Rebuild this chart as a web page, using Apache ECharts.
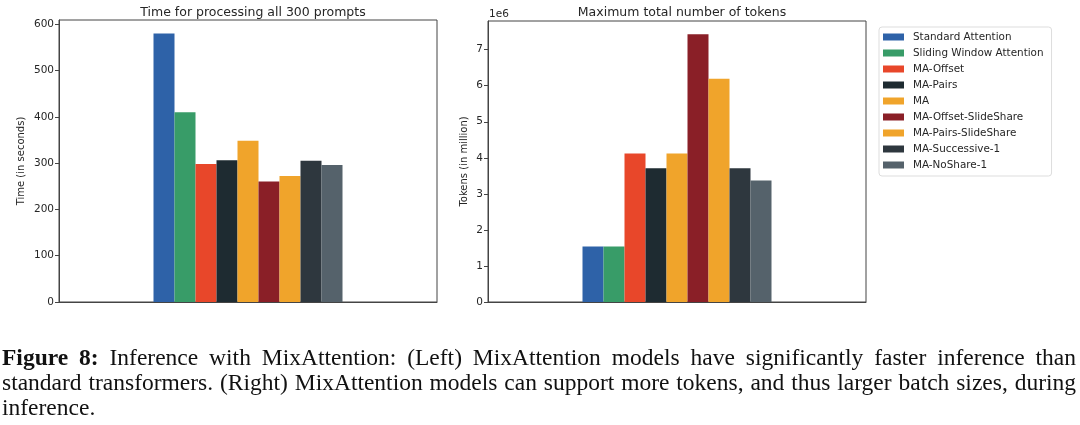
<!DOCTYPE html>
<html>
<head>
<meta charset="utf-8">
<script src="https://cdn.jsdelivr.net/npm/echarts@6/dist/echarts.min.js"></script>
<style>
html,body{margin:0;padding:0;background:#fff;}
#chart{width:1080px;height:425px;}
</style>
</head>
<body>
<div id="chart"></div>
<script>
// ---- data ----
const seriesNames = ['Standard Attention','Sliding Window Attention','MA-Offset','MA-Pairs','MA','MA-Offset-SlideShare','MA-Pairs-SlideShare','MA-Successive-1','MA-NoShare-1'];
const seriesColors = ['#2e62a8','#389c68','#e8472a','#1e2b31','#f0a42b','#8a1f27','#f0a42b','#2e373e','#55626b'];
const timeSeconds = [580, 410, 298, 306, 348, 260, 272, 305, 296];
const maxTokens = [1540000, 1540000, 4120000, 3710000, 4120000, 7430000, 6190000, 3710000, 3370000];
const timeTicks = [0, 100, 200, 300, 400, 500, 600];
const tokenTicks = [0, 1000000, 2000000, 3000000, 4000000, 5000000, 6000000, 7000000];
const leftTitle = 'Time for processing all 300 prompts';
const rightTitle = 'Maximum total number of tokens';
const leftYName = 'Time (in seconds)';
const rightYName = 'Tokens (in million)';
const captionBold = 'Figure 8:';
const captionLines = [
  'Inference with MixAttention: (Left) MixAttention models have significantly faster inference than',
  'standard transformers. (Right) MixAttention models can support more tokens, and thus larger batch sizes, during',
  'inference.'
];

const FONT = 'DejaVu Sans';
const TXT = '#262626';
const chart = echarts.init(document.getElementById('chart'));

function yAxis(gridIndex, max, ticks, name, nameGap, fmt) {
  return {
    type: 'value', gridIndex, min: 0, max: max,
    name: name, nameLocation: 'middle', nameGap: nameGap,
    nameTextStyle: {fontFamily: FONT, fontSize: 10, color: TXT},
    axisLine: {show: true, lineStyle: {color: '#444', width: 1}},
    axisTick: {show: true, length: 4, lineStyle: {color: '#444'}, customValues: ticks},
    axisLabel: {fontFamily: FONT, fontSize: 10.5, color: TXT, margin: 5, customValues: ticks, formatter: fmt},
    splitLine: {show: false}
  };
}
function xAxis(gridIndex) {
  return {
    type: 'category', gridIndex, data: [''],
    axisLine: {show: true, lineStyle: {color: '#444'}},
    axisTick: {show: false}, axisLabel: {show: false}, splitLine: {show: false}
  };
}

const series = [];
seriesNames.forEach((n, i) => {
  series.push({
    name: n, type: 'bar', xAxisIndex: 0, yAxisIndex: 0,
    data: [timeSeconds[i]], barGap: '0%', barCategoryGap: '50%',
    itemStyle: {color: seriesColors[i]}, emphasis: {disabled: true}
  });
  series.push({
    name: n, type: 'bar', xAxisIndex: 1, yAxisIndex: 1,
    data: [maxTokens[i]], barGap: '0%', barCategoryGap: '50%',
    itemStyle: {color: seriesColors[i]}, emphasis: {disabled: true}
  });
});

// ---- caption, justified like the LaTeX original ----
const CAP_SIZE = 23.5;
const CAP_LEFT = 2, CAP_RIGHT = 1076;
const ctx = document.createElement('canvas').getContext('2d');
function measure(t, bold) {
  ctx.font = (bold ? 'bold ' : '') + CAP_SIZE + 'px "Liberation Serif"';
  return ctx.measureText(t).width;
}
const captionGraphics = [];
captionLines.forEach((line, i) => {
  const words = line.split(' ').map(w => ({t: w, b: false}));
  if (i === 0) {
    captionBold.split(' ').reverse().forEach(w => words.unshift({t: w, b: true}));
  }
  const widths = words.map(w => measure(w.t, w.b));
  const total = widths.reduce((a, b) => a + b, 0);
  const justify = i < captionLines.length - 1;
  const gap = justify ? (CAP_RIGHT - CAP_LEFT - total) / (words.length - 1) : measure(' ', false);
  let x = CAP_LEFT;
  words.forEach((w, k) => {
    captionGraphics.push({
      type: 'text', x: x, y: 347 + i * 25, silent: true,
      style: {text: w.t, fontFamily: 'Liberation Serif', fontSize: CAP_SIZE,
              fontWeight: w.b ? 'bold' : 'normal', fill: '#111'}
    });
    x += widths[k] + gap;
  });
});

chart.setOption({
  animation: false,
  backgroundColor: '#fff',
  title: [
    {text: leftTitle, left: 248, top: 1, textAlign: 'center',
     textStyle: {fontFamily: FONT, fontSize: 12.5, fontWeight: 'normal', color: TXT}},
    {text: rightTitle, left: 677, top: 1, textAlign: 'center',
     textStyle: {fontFamily: FONT, fontSize: 12.5, fontWeight: 'normal', color: TXT}}
  ],
  grid: [
    {left: 59, top: 20, width: 378, height: 282, show: true, borderColor: '#444', borderWidth: 1, backgroundColor: 'transparent'},
    {left: 488, top: 21, width: 378, height: 281, show: true, borderColor: '#444', borderWidth: 1, backgroundColor: 'transparent'}
  ],
  xAxis: [xAxis(0), xAxis(1)],
  yAxis: [
    yAxis(0, 609, timeTicks, leftYName, 33, v => String(v)),
    yAxis(1, 7795000, tokenTicks, rightYName, 19, v => String(Math.round(v / 1e6)))
  ],
  legend: {
    orient: 'vertical', left: 879, top: 27,
    data: seriesNames,
    itemWidth: 21, itemHeight: 7, itemGap: 4,
    icon: 'rect',
    padding: [4, 8, 5, 4],
    backgroundColor: '#fff', borderColor: '#ddd', borderWidth: 1, borderRadius: 3,
    textStyle: {fontFamily: FONT, fontSize: 10.4, color: TXT, lineHeight: 12, padding: [0, 0, 0, 4]},
    selectedMode: false
  },
  graphic: [
    {type: 'text', left: 489, top: 9, style: {text: '1e6', fontFamily: FONT, fontSize: 10.5, fill: TXT}}
  ].concat(captionGraphics),
  series: series
});
</script>
</body>
</html>
